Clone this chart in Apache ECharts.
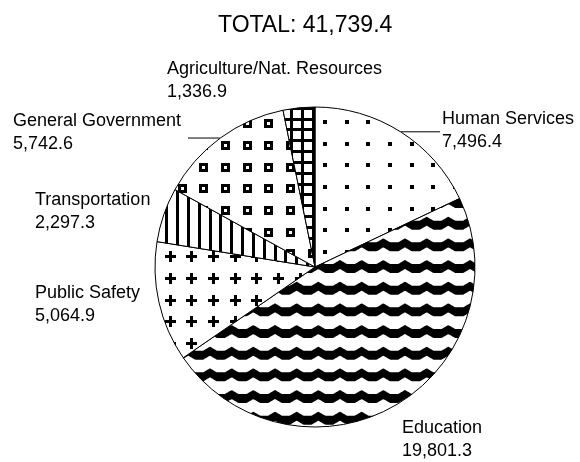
<!DOCTYPE html>
<html>
<head>
<meta charset="utf-8">
<script src="https://cdn.jsdelivr.net/npm/echarts@6/dist/echarts.min.js"></script>
<style>
	html, body { margin: 0; padding: 0; background: #fff; }
	#chart { width: 580px; height: 462px; }
</style>
</head>
<body>
<div id="chart"></div>
<script>
	var categories = ['Human Services', 'Education', 'Public Safety', 'Transportation', 'General Government', 'Agriculture/Nat. Resources'];
	var values = [7496.4, 19801.3, 5064.9, 2297.3, 5742.6, 1336.9];

	// label boxes (left, top) and leader line end x
	var labelPos = [[442, 108], [402, 417], [35, 282], [35, 189], [13, 110], [167, 58]];
	var leaderEnd = [440, null, null, null, 188, null];

	var FONT = '"Liberation Sans", Arial, sans-serif';
	var C = 65 / 3; // pattern cell, 3 per tile

	function fmt(v) {
		return v.toLocaleString('en-US', { minimumFractionDigits: 1, maximumFractionDigits: 1 });
	}

	function tile(draw) {
		var cv = document.createElement('canvas');
		cv.width = cv.height = 65;
		var ctx = cv.getContext('2d');
		ctx.fillStyle = '#fff';
		ctx.fillRect(0, 0, 65, 65);
		ctx.fillStyle = '#000';
		draw(ctx);
		return { image: cv, repeat: 'repeat' };
	}
	function each(step, ox, oy, fn) {
		var n = Math.round(65 / step);
		for (var i = -1; i <= n; i++) {
			for (var j = -1; j <= n; j++) {
				fn(Math.round(ox + i * step), Math.round(oy + j * step));
			}
		}
	}
	function waveY(x) {
		var ph = (((x - 15) / C) % 1 + 1) % 1;
		var d = Math.min(ph, 1 - ph) * 2;
		return 4 * Math.min(1, d * 1.6);
	}

	var patterns = [
		// dots
		tile(function (ctx) {
			each(C, 19.7, 11.7, function (x, y) { ctx.fillRect(x, y, 4, 4); });
		}),
		// wave
		tile(function (ctx) {
			for (var r = -1; r <= 3; r++) {
				var y0 = r * C;
				ctx.beginPath();
				var x;
				for (x = 0; x <= 65; x++) ctx.lineTo(x, y0 + waveY(x));
				for (x = 65; x >= 0; x--) ctx.lineTo(x, y0 + 9 + waveY(x));
				ctx.closePath();
				ctx.fill();
			}
		}),
		// plus
		tile(function (ctx) {
			each(C, 13, 13, function (x, y) {
				ctx.fillRect(x, y + 4, 11, 3);
				ctx.fillRect(x + 4, y, 3, 11);
			});
		}),
		// vertical stripes
		tile(function (ctx) {
			for (var i = -1; i <= 6; i++) ctx.fillRect(Math.round(2.7 + i * C / 2), 0, 3, 65);
		}),
		// hollow squares
		tile(function (ctx) {
			each(C, 4.3, 11, function (x, y) {
				ctx.fillStyle = '#000';
				ctx.fillRect(x, y, 9, 9);
				ctx.fillStyle = '#fff';
				ctx.fillRect(x + 3, y + 3, 3, 3);
			});
		}),
		// grid
		tile(function (ctx) {
			for (var i = -1; i <= 6; i++) {
				ctx.fillRect(Math.round(8.3 + i * C / 2), 0, 3, 65);
				ctx.fillRect(0, Math.round(9.2 + i * C / 2), 65, 3);
			}
		})
	];

	var total = values.reduce(function (a, b) { return a + b; }, 0);

	var chart = echarts.init(document.getElementById('chart'));
	chart.setOption({
		animation: false,
		backgroundColor: '#fff',
		title: {
			text: 'TOTAL: ' + fmt(Math.round(total * 10) / 10),
			left: 213,
			top: 9,
			textStyle: { fontFamily: FONT, fontSize: 23, fontWeight: 'normal', color: '#000' }
		},
		series: [{
			type: 'pie',
			center: [315, 267],
			radius: 160,
			startAngle: 90,
			clockwise: true,
			avoidLabelOverlap: false,
			emphasis: { disabled: true },
			itemStyle: { borderColor: '#000', borderWidth: 1 },
			label: {
				show: true,
				position: 'outside',
				fontFamily: FONT,
				fontSize: 18,
				lineHeight: 23,
				color: '#000',
				width: 260,
				formatter: function (p) { return p.name + '\n' + fmt(p.value); }
			},
			labelLine: { show: false, length: 10, length2: 10, lineStyle: { color: '#000', width: 1 } },
			labelLayout: function (params) {
				var i = params.dataIndex;
				var res = { x: labelPos[i][0], y: labelPos[i][1], align: 'left', verticalAlign: 'top' };
				if (leaderEnd[i] != null && params.labelLinePoints) {
					var p = params.labelLinePoints[0];
					res.labelLinePoints = [[p[0], p[1]], [leaderEnd[i], p[1]]];
				}
				return res;
			},
			data: categories.map(function (name, i) {
				return {
					name: name,
					value: values[i],
					itemStyle: { color: patterns[i] },
					labelLine: { show: leaderEnd[i] != null }
				};
			})
		}]
	});
</script>
</body>
</html>
